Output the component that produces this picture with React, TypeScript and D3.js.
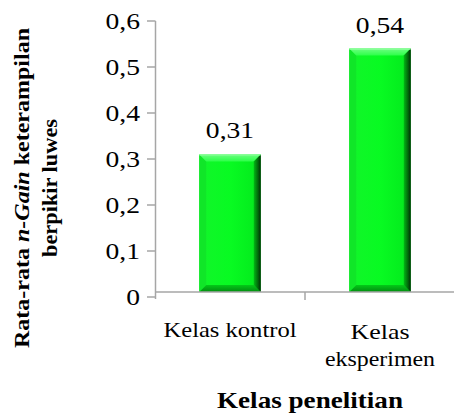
import React from "react";
import * as d3 from "d3";

const categories: string[][] = [["Kelas kontrol"], ["Kelas", "eksperimen"]];
const categoryKeys = ["Kelas kontrol", "Kelas eksperimen"];
const values = [0.31, 0.54];
const valueLabels = ["0,31", "0,54"];
const yTicks = [0, 0.1, 0.2, 0.3, 0.4, 0.5, 0.6];
const yTickLabels = ["0", "0,1", "0,2", "0,3", "0,4", "0,5", "0,6"];
const xTitle = "Kelas penelitian";
const yTitle1a = "Rata-rata ";
const yTitle1b = "n-Gain";
const yTitle1c = " keterampilan";
const yTitle2 = "berpikir luwes";

const W = 454;
const H = 417;
const FONT = "'Liberation Serif', 'Times New Roman', serif";

export default function App() {
  const y = d3.scaleLinear().domain([0, 0.6]).range([297, 21]);
  const x = d3
    .scaleBand<string>()
    .domain(categoryKeys)
    .range([155, 455])
    .paddingInner(0.59)
    .paddingOuter(0.295);
  const axisY = 292;
  const b = 7;
  const catLabelLengths = [[133], [59, 110]];
  const sx = 1.2;

  return (
    <svg
      width={W}
      height={H}
      style={{ position: "absolute", left: 0, top: 0, background: "#fff" }}
      fontFamily={FONT}
    >
      <defs>
        <linearGradient id="front" x1="0" x2="1" y1="0" y2="0">
          <stop offset="0" stopColor="#12f52a" />
          <stop offset="0.5" stopColor="#08fb22" />
          <stop offset="1" stopColor="#03e81c" />
        </linearGradient>
        <linearGradient id="rightBevel" x1="0" x2="1" y1="0" y2="0">
          <stop offset="0" stopColor="#02b814" />
          <stop offset="0.6" stopColor="#016a0b" />
          <stop offset="1" stopColor="#002a04" />
        </linearGradient>
        <linearGradient id="topBevel" x1="0" x2="0" y1="0" y2="1">
          <stop offset="0" stopColor="#6cff80" />
          <stop offset="1" stopColor="#2cff48" />
        </linearGradient>
        <linearGradient id="bottomBevel" x1="0" x2="0" y1="0" y2="1">
          <stop offset="0" stopColor="#03c818" />
          <stop offset="1" stopColor="#028c10" />
        </linearGradient>
      </defs>

      {/* bars */}
      {values.map((v, i) => {
        const x0 = x(categoryKeys[i])!;
        const x1 = x0 + x.bandwidth();
        const yt = y(v);
        const yb = axisY;
        return (
          <g key={i}>
            <rect x={x0} y={yt} width={x1 - x0} height={yb - yt} fill="url(#front)" />
            <polygon
              points={`${x0},${yt} ${x0 + b},${yt + b} ${x0 + b},${yb - b} ${x0},${yb}`}
              fill="#10e628"
            />
            <polygon
              points={`${x0},${yt} ${x1},${yt} ${x1 - b},${yt + b} ${x0 + b},${yt + b}`}
              fill="url(#topBevel)"
            />
            <polygon
              points={`${x0},${yb} ${x1},${yb} ${x1 - b},${yb - b} ${x0 + b},${yb - b}`}
              fill="url(#bottomBevel)"
            />
            <polygon
              points={`${x1},${yt} ${x1},${yb} ${x1 - b},${yb - b} ${x1 - b},${yt + b}`}
              fill="url(#rightBevel)"
            />
            <line x1={x0} x2={x1} y1={yt + 0.5} y2={yt + 0.5} stroke="#9dffa8" strokeWidth={1} />
            <text
              transform={`translate(${x0 + x.bandwidth() / 2},${yt - 16}) scale(${sx},1)`}
              textAnchor="middle"
              fontSize={23}
              fill="#000"
            >
              {valueLabels[i]}
            </text>
          </g>
        );
      })}

      {/* y axis */}
      <line x1={155.5} x2={155.5} y1={21} y2={299} stroke="#a6a6a6" strokeWidth={1.5} />
      {yTicks.map((t, i) => (
        <g key={t}>
          <line x1={147} x2={155.5} y1={y(t)} y2={y(t)} stroke="#a6a6a6" strokeWidth={1.5} />
          <text
            transform={`translate(140,${y(t)}) scale(${sx},1)`}
            dy="0.35em"
            textAnchor="end"
            fontSize={23}
            fill="#000"
          >
            {yTickLabels[i]}
          </text>
        </g>
      ))}

      {/* x axis */}
      <line x1={155} x2={454} y1={axisY} y2={axisY} stroke="#a6a6a6" strokeWidth={1.5} />
      <line
        x1={x(categoryKeys[1])! - (x.step() - x.bandwidth()) / 2}
        x2={x(categoryKeys[1])! - (x.step() - x.bandwidth()) / 2}
        y1={axisY}
        y2={axisY + 8}
        stroke="#a6a6a6"
        strokeWidth={1.5}
      />
      {categories.map((lines, i) => {
        const cx = x(categoryKeys[i])! + x.bandwidth() / 2;
        const base = lines.length === 1 ? 337 : 339;
        return (
          <text key={i} textAnchor="middle" fontSize={21} fill="#000">
            {lines.map((ln, j) => (
              <tspan
                key={j}
                x={cx}
                y={base + j * 27}
                textLength={catLabelLengths[i][j]}
                lengthAdjust="spacingAndGlyphs"
              >
                {ln}
              </tspan>
            ))}
          </text>
        );
      })}

      {/* x title */}
      <text
        x={310}
        y={408}
        textAnchor="middle"
        fontSize={23}
        fontWeight="bold"
        fill="#000"
        textLength={186}
        lengthAdjust="spacingAndGlyphs"
      >
        {xTitle}
      </text>

      {/* y title */}
      <text
        transform={`translate(29,188) rotate(-90)`}
        textAnchor="middle"
        fontSize={22}
        fontWeight="bold"
        fill="#000"
        textLength={320}
        lengthAdjust="spacingAndGlyphs"
      >
        {yTitle1a}
        <tspan fontStyle="italic">{yTitle1b}</tspan>
        {yTitle1c}
      </text>
      <text
        transform={`translate(57,188) rotate(-90)`}
        textAnchor="middle"
        fontSize={22}
        fontWeight="bold"
        fill="#000"
        textLength={138}
        lengthAdjust="spacingAndGlyphs"
      >
        {yTitle2}
      </text>
    </svg>
  );
}
